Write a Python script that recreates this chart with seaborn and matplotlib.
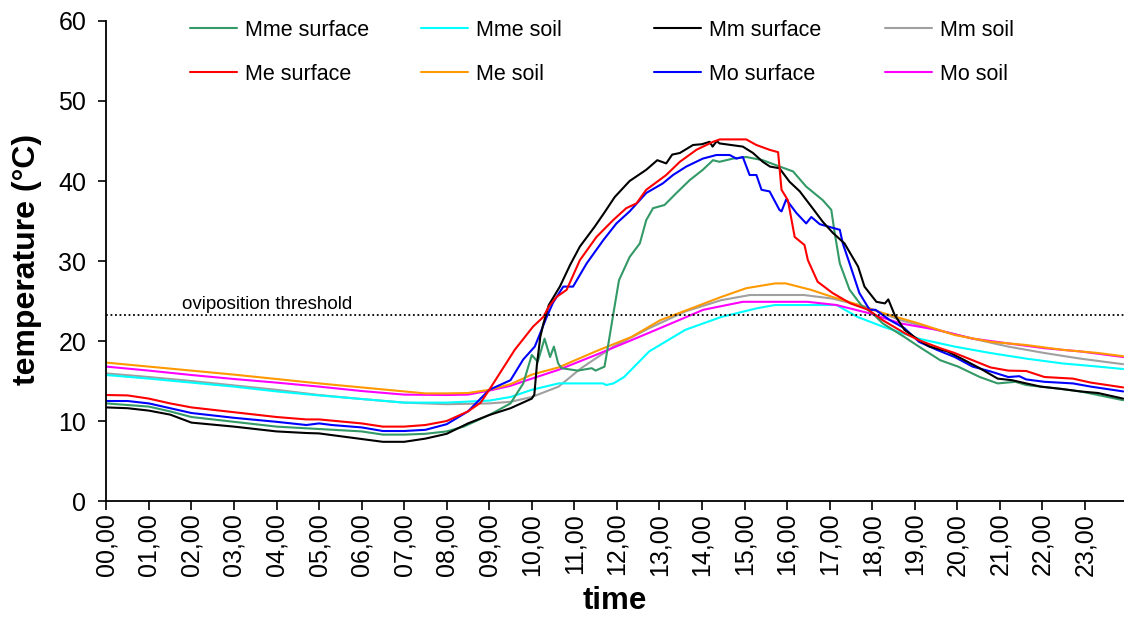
import matplotlib
matplotlib.use("Agg")
import matplotlib.pyplot as plt
import seaborn as sns
import pandas as pd

# ---------------- data (hours of day, temperature °C) ----------------
t_mme_surface = [0, 0.5, 1, 1.5, 2, 3, 4, 5, 6, 6.5, 7, 7.5, 8, 8.4, 9, 9.5, 9.8, 10.0, 10.14, 10.3, 10.43,
                 10.52, 10.62, 10.7, 11.08, 11.41, 11.5, 11.71, 11.79, 11.92, 12.05, 12.3, 12.54, 12.69, 12.85,
                 13.12, 13.4, 13.71, 14.02, 14.26, 14.41, 14.73, 15.04, 15.43, 15.83, 16.14, 16.45, 16.84, 17.04,
                 17.12, 17.24, 17.47, 17.74, 18.0, 18.25, 18.76, 19.1, 19.6, 20.02, 20.53, 20.95, 21.37, 21.62,
                 22.3, 22.89, 23.31, 23.9]
v_mme_surface = [12.2, 12.0, 11.8, 11.2, 10.5, 9.9, 9.3, 9.0, 8.7, 8.3, 8.3, 8.4, 8.7, 9.3, 10.75, 12.2, 14.7, 18.25,
                 17.4, 20.3, 18.0, 19.3, 17.2, 16.6, 16.3, 16.6, 16.3, 16.8, 19.3, 23.5, 27.6, 30.5, 32.2, 35.1, 36.6,
                 37.0, 38.5, 40.1, 41.4, 42.6, 42.4, 42.8, 43.0, 42.6, 41.8, 41.2, 39.3, 37.6, 36.4,
                 33.5, 29.7, 26.4, 24.5, 23.5, 22.2, 20.5, 19.3, 17.6, 16.8, 15.5, 14.7, 14.9, 14.5,
                 14.1, 13.7, 13.25, 12.6]

t_mme_soil = [0, 1, 2, 3, 4, 5, 6, 7, 8, 9, 9.5, 10, 10.63, 11.67, 11.75, 11.92, 12.17, 12.76, 13.61, 14.45,
              15.3, 15.72, 17.16, 17.66, 18.25, 19.09, 19.94, 20.78, 21.62, 22.47, 23.31, 23.9]
v_mme_soil = [15.75, 15.3, 14.8, 14.3, 13.7, 13.2, 12.75, 12.3, 12.3, 12.55, 13.0, 13.9, 14.7, 14.7, 14.5, 14.7,
              15.5, 18.7, 21.4, 23.0, 24.1, 24.5, 24.5, 23.0, 21.8, 20.3, 19.3, 18.5, 17.8, 17.2, 16.8, 16.5]

t_mm_surface = [0, 0.5, 1, 1.5, 2, 3, 4, 4.7, 5, 6, 6.5, 7, 7.5, 8, 8.5, 9, 9.5, 10.0, 10.06, 10.12, 10.2, 10.27,
                10.4, 10.66, 10.9, 11.13, 11.48, 11.7, 11.95, 12.3, 12.69, 12.95, 13.16, 13.3, 13.48, 13.79, 14.0,
                14.18, 14.25, 14.35, 14.41, 14.96, 15.2, 15.43, 15.6, 15.82, 16.06, 16.3, 16.6, 16.84, 17.08,
                17.35, 17.67, 17.82, 18.1, 18.3, 18.38, 18.53, 18.76, 19.1, 19.35, 19.77, 20.1, 20.53, 20.95,
                21.29, 21.62, 21.96, 22.47, 22.89, 23.31, 23.9]
v_mm_surface = [11.7, 11.6, 11.3, 10.8, 9.8, 9.3, 8.7, 8.5, 8.45, 7.75, 7.4, 7.4, 7.8, 8.4, 9.7, 10.75, 11.6, 12.8,
                13.3, 17.0, 20.5, 22.1, 24.5, 26.8, 29.5, 31.8, 34.3, 36.0, 38.0, 40.0, 41.4, 42.6, 42.2, 43.3,
                43.5, 44.5, 44.6, 44.9, 44.3, 45.0, 44.7, 44.3, 43.5, 42.4, 41.8, 41.6, 39.9, 38.7, 36.6, 34.9,
                33.5, 32.2, 29.3, 26.8, 24.9, 24.7, 25.2, 23.25, 21.4, 20.1, 19.3, 18.7, 17.8, 16.6, 15.3,
                15.1, 14.7, 14.3, 14.0, 13.7, 13.5, 12.8]

t_mm_soil = [0, 1, 2, 3, 4, 5, 6, 7, 8, 9, 9.5, 10, 10.63, 11.16, 11.92, 12.76, 13.61, 14.45, 15.13, 16.39,
             17.07, 17.83, 18.67, 19.52, 20.36, 21.2, 22.05, 22.89, 23.9]
v_mm_soil = [15.95, 15.5, 15.0, 14.45, 13.9, 13.25, 12.75, 12.3, 12.1, 12.2, 12.4, 13.0, 14.3, 16.6, 19.3, 21.6,
             23.7, 25.1, 25.75, 25.75, 25.3, 24.3, 22.6, 21.4, 20.3, 19.3, 18.5, 17.8, 17.1]

t_me_surface = [0, 0.5, 1, 1.5, 2, 3, 4, 4.7, 5, 6, 6.5, 7, 7.5, 8, 8.5, 8.8, 9, 9.3, 9.6, 10.03, 10.27, 10.4,
                10.58, 10.82, 11.13, 11.52, 11.91, 12.22, 12.46, 12.69, 13.16, 13.48, 13.87, 14.26, 14.42, 15.04,
                15.28, 15.59, 15.79, 15.87, 16.02, 16.18, 16.41, 16.49, 16.72, 17.07, 17.49, 17.91, 18.25, 18.76,
                19.1, 19.6, 19.94, 20.36, 20.78, 21.2, 21.62, 22.05, 22.72, 23.14, 23.9]
v_me_surface = [13.25, 13.2, 12.8, 12.2, 11.7, 11.1, 10.5, 10.2, 10.2, 9.7, 9.3, 9.3, 9.5, 10.0, 11.2, 12.3, 13.9,
                16.4, 18.9, 21.8, 23.0, 24.3, 25.5, 26.4, 30.1, 33.0, 35.1, 36.6, 37.2, 38.9, 40.75, 42.4, 43.9,
                44.9, 45.2, 45.2, 44.5, 43.9, 43.6, 38.9, 37.6, 33.0, 32.0, 30.1, 27.4, 26.0, 24.7, 23.9, 22.6,
                21.0, 20.1, 19.1, 18.5, 17.6, 16.7, 16.3, 16.25, 15.5, 15.3, 14.8, 14.2]

t_me_soil = [0, 1, 2, 3, 4, 5, 6, 7, 7.5, 8, 8.5, 9, 9.5, 10, 10.63, 11.5, 12.34, 13.02, 13.86, 14.45, 15.04,
             15.72, 15.97, 16.56, 17.07, 17.57, 18.25, 19.09, 19.94, 20.78, 21.62, 22.47, 23.31, 23.9]
v_me_soil = [17.3, 16.8, 16.3, 15.8, 15.25, 14.7, 14.2, 13.7, 13.45, 13.45, 13.5, 13.9, 14.6, 15.8, 16.7, 18.7,
             20.5, 22.6, 24.3, 25.5, 26.6, 27.2, 27.2, 26.4, 25.5, 24.7, 23.5, 22.2, 20.75, 19.9, 19.5, 18.9,
             18.5, 18.1]

t_mo_surface = [0, 0.5, 1, 1.5, 2, 3, 4, 4.7, 5, 5.3, 6, 6.5, 7, 7.5, 8, 8.5, 9, 9.5, 9.8, 10.07, 10.2, 10.35,
                10.5, 10.74, 10.97, 11.29, 11.68, 11.99, 12.3, 12.69, 13.08, 13.32, 13.63, 14.02, 14.34, 14.65,
                14.81, 14.96, 15.12, 15.28, 15.4, 15.59, 15.82, 15.87, 15.98, 16.22, 16.45, 16.57, 16.77, 17.24,
                17.31, 17.47, 17.7, 17.94, 18.08, 18.42, 18.76, 19.1, 19.52, 19.94, 20.36, 20.78, 21.2, 21.46,
                21.62, 22.05, 22.72, 23.14, 23.9]
v_mo_surface = [12.5, 12.5, 12.2, 11.6, 11.0, 10.4, 9.9, 9.5, 9.7, 9.5, 9.2, 8.75, 8.75, 8.9, 9.6, 11.2, 13.9,
                15.1, 17.7, 19.3, 21.0, 23.0, 24.8, 26.8, 26.8, 29.7, 32.6, 34.7, 36.2, 38.5, 39.7, 40.75, 41.8,
                42.8, 43.25, 43.25, 42.8, 43.0, 40.75, 40.75, 38.9, 38.7, 36.4, 36.2, 37.7, 36.0, 34.7, 35.5,
                34.6, 33.9, 32.2, 29.7, 26.0, 23.9, 23.9, 22.6, 21.6, 19.9, 18.9, 18.0, 16.8, 16.2, 15.5, 15.6,
                15.2, 14.9, 14.7, 14.3, 13.7]

t_mo_soil = [0, 1, 2, 3, 4, 5, 6, 7, 8, 8.5, 9, 9.5, 10, 10.63, 11.5, 12.34, 13.19, 14.03, 14.96, 16.48, 17.16,
             17.91, 18.67, 19.52, 20.36, 21.2, 22.05, 22.89, 23.9]
v_mo_soil = [16.8, 16.3, 15.75, 15.25, 14.8, 14.3, 13.75, 13.3, 13.25, 13.3, 13.8, 14.4, 15.3, 16.4, 18.25, 20.1,
             22.0, 23.9, 24.9, 24.9, 24.5, 23.5, 22.2, 21.4, 20.3, 19.7, 19.1, 18.7, 18.0]

series_names = ["Mme surface", "Mme soil", "Mm surface", "Mm soil",
                "Me surface", "Me soil", "Mo surface", "Mo soil"]
threshold = 23.25
hour_labels = ["%02d,00" % h for h in range(24)]

# ---------------- styling ----------------
sns.set_theme(style="white")
plt.rcParams["font.family"] = ["Liberation Sans", "DejaVu Sans"]
for key in ["text.color", "axes.labelcolor", "xtick.color", "ytick.color"]:
    plt.rcParams[key] = "black"

colors = {
    "Mme surface": "#339966", "Mme soil": "#00FFFF",
    "Mm surface": "#000000", "Mm soil": "#A0A0A0",
    "Me surface": "#FF0000", "Me soil": "#FF9900",
    "Mo surface": "#0000FF", "Mo soil": "#FF00FF",
}
data = {
    "Mme surface": (t_mme_surface, v_mme_surface), "Mme soil": (t_mme_soil, v_mme_soil),
    "Mm surface": (t_mm_surface, v_mm_surface), "Mm soil": (t_mm_soil, v_mm_soil),
    "Me surface": (t_me_surface, v_me_surface), "Me soil": (t_me_soil, v_me_soil),
    "Mo surface": (t_mo_surface, v_mo_surface), "Mo soil": (t_mo_soil, v_mo_soil),
}

fig = plt.figure(figsize=(11.24, 6.23), dpi=100)
ax = fig.add_axes([0.0946, 0.1958, 0.9054, 0.7705])

draw_order = ["Mm soil", "Mme soil", "Mo soil", "Me soil",
              "Mme surface", "Mo surface", "Mm surface", "Me surface"]
handles = {}
for name in draw_order:
    t, v = data[name]
    df = pd.DataFrame({"time": t, "temp": v})
    sns.lineplot(data=df, x="time", y="temp", ax=ax, color=colors[name], linewidth=1.5,
                 estimator=None, sort=False, label=name)
    handles[name] = ax.get_lines()[-1]
if ax.get_legend() is not None:
    ax.get_legend().remove()

ax.axhline(threshold, color="black", linestyle=(0, (1, 1.5)), linewidth=1.3)
ax.text(1.78, threshold + 0.7, "oviposition threshold", fontsize=13.5, ha="left", va="baseline")

ax.set_xlim(0, 23.92)
ax.set_ylim(0, 60)
ax.set_xticks(range(24))
ax.set_xticklabels(hour_labels, rotation=90, fontsize=18)
ax.set_yticks(range(0, 61, 10))
ax.tick_params(axis="y", labelsize=18, length=5.5, width=1.2, direction="out", left=True, pad=9)
ax.tick_params(axis="x", length=6.5, width=1.2, direction="out", bottom=True, pad=2)

for s in ["top", "right"]:
    ax.spines[s].set_visible(False)
for s in ["left", "bottom"]:
    ax.spines[s].set_color("black")
    ax.spines[s].set_linewidth(1.3)

ax.set_xlabel("time", fontsize=22.5, fontweight="bold")
ax.xaxis.set_label_coords(0.5, -0.177)
ax.set_ylabel("")
fig.text(27 / 1124, 1 - 259 / 623, "temperature (°C)", fontsize=23, fontweight="bold",
         rotation=90, ha="center", va="center")

# legend: 4 columns at fixed positions, 2 rows each
col_x = [190, 421, 654, 885]
columns = [["Mme surface", "Me surface"], ["Mme soil", "Me soil"],
           ["Mm surface", "Mo surface"], ["Mm soil", "Mo soil"]]
for i, (cx, col) in enumerate(zip(col_x, columns)):
    leg = fig.legend([handles[n] for n in col], col, loc="upper left",
                     bbox_to_anchor=(cx / 1124, 1 - 20 / 623), frameon=False,
                     fontsize=15.5, handlelength=2.2, handletextpad=0.35,
                     labelspacing=1.05, borderpad=0, borderaxespad=0)

fig.savefig("out.png", dpi=100)
